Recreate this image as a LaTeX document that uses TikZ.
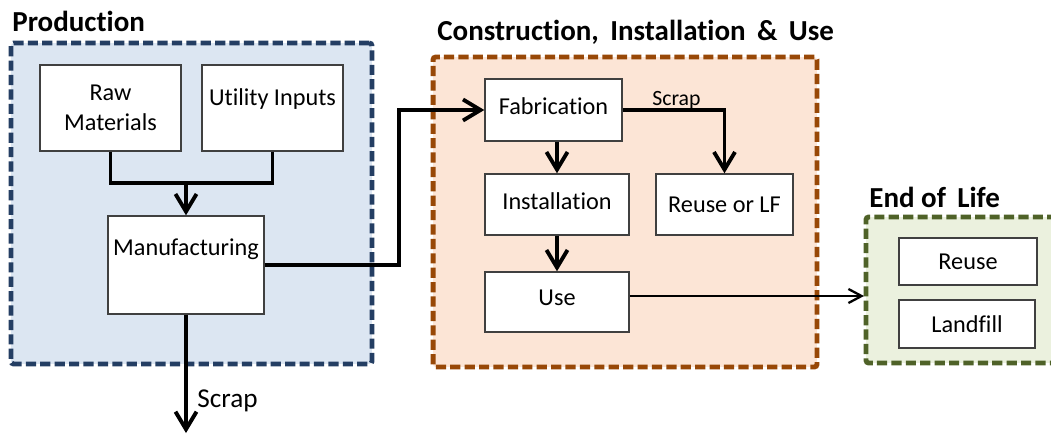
\documentclass[tikz,border=0pt]{standalone}
\usepackage{fontspec}
\setmainfont{Carlito}[Ligatures={NoCommon}]
\usetikzlibrary{arrows.meta}

\definecolor{prodfill}{RGB}{220,230,242}
\definecolor{prodline}{RGB}{36,62,99}
\definecolor{consfill}{RGB}{252,229,214}
\definecolor{consline}{RGB}{152,72,7}
\definecolor{eolfill}{RGB}{235,241,222}
\definecolor{eolline}{RGB}{79,98,40}

\begin{document}
\begin{tikzpicture}[x=0.02cm, y=-0.02cm,
	box/.style={shape=rectangle, draw=black!75, fill=white, line width=0.8pt, inner sep=0pt, align=center, font=\fontsize{13.8}{17}\selectfont},
	frame/.style={shape=rectangle, line width=2.8pt, dash pattern=on 5.8pt off 2.4pt, rounded corners=1.5pt},
	heading/.style={anchor=west, inner sep=0pt, font=\fontsize{16.5}{19}\selectfont\bfseries},
	flow/.style={line width=2.2pt, -{Straight Barb[length=10pt, width=12pt, line width=2.2pt]}},
	thinflow/.style={line width=1.3pt, -{Straight Barb[length=7.5pt, width=8pt, line width=1.3pt]}}]

	\useasboundingbox (0, 0) rectangle (1051, 433);

	% the three stages
	\node[frame, draw=prodline, fill=prodfill, minimum width=7.22cm, minimum height=6.42cm] (prod) at (191.5, 203.5) {};
	\node[frame, draw=consline, fill=consfill, minimum width=7.68cm, minimum height=6.2cm] (cons) at (625, 212) {};
	\node[frame, draw=eolline, fill=eolfill, minimum width=3.88cm, minimum height=2.92cm] (eol) at (963, 290) {};

	\node[heading] (prodtitle) at (12, 21) {Production};
	\node[heading] (constitle) at (437, 32) {Construction,\, Installation \,\&\, Use};
	\node[heading] (eoltitle) at (869, 197) {End of\, Life};

	% production
	\node[box, minimum width=2.82cm, minimum height=1.72cm] (raw) at (110.5, 108) {Raw\\Materials};
	\node[box, minimum width=2.82cm, minimum height=1.72cm, text depth=0.42cm] (util) at (272.5, 108) {Utility Inputs};
	\node[box, minimum width=3.12cm, minimum height=1.96cm, text depth=0.7cm] (manuf) at (186, 265) {Manufacturing};

	% construction, installation and use
	\node[box, minimum width=2.74cm, minimum height=1.24cm, text depth=0.16cm] (fab) at (553.5, 110) {Fabrication};
	\node[box, minimum width=2.88cm, minimum height=1.22cm, text depth=0.12cm] (inst) at (557, 204.5) {Installation};
	\node[box, minimum width=2.74cm, minimum height=1.22cm] (reuself) at (724.5, 204.5) {Reuse or LF};
	\node[box, minimum width=2.88cm, minimum height=1.2cm, text depth=0.16cm] (use) at (557, 302) {Use};

	% end of life
	\node[box, minimum width=2.76cm, minimum height=0.94cm] (reuse) at (968, 261.5) {Reuse};
	\node[box, minimum width=2.72cm, minimum height=0.96cm] (landfill) at (967, 324) {Landfill};

	\coordinate (merge) at (186, 183);
	\coordinate (scrapend) at (186, 433);
	\coordinate (eolin) at (864, 296);

	\draw[line width=2.2pt] (raw.south) |- (merge);
	\draw[line width=2.2pt] (util.south) |- (merge);
	\draw[flow] (merge) -- (manuf.north);
	\draw[flow] (manuf.south) -- (scrapend);
	\node[anchor=west, inner sep=0pt, font=\fontsize{15.5}{18}\selectfont] (scraplow) at (197, 401) {Scrap};

	\draw[flow] (manuf.east) -- ++(134, 0) |- (fab.west);
	\draw[flow] (inst.north |- fab.south) -- (inst.north);
	\draw[flow] (inst.south) -- (use.north);
	\draw[flow] (fab.east) -| (reuself.north);
	\node[anchor=west, inner sep=0pt, font=\fontsize{12.4}{15}\selectfont] (scrapfab) at (652, 100) {Scrap};

	\draw[thinflow] (use.east |- eolin) -- (eolin);

\end{tikzpicture}
\end{document}
